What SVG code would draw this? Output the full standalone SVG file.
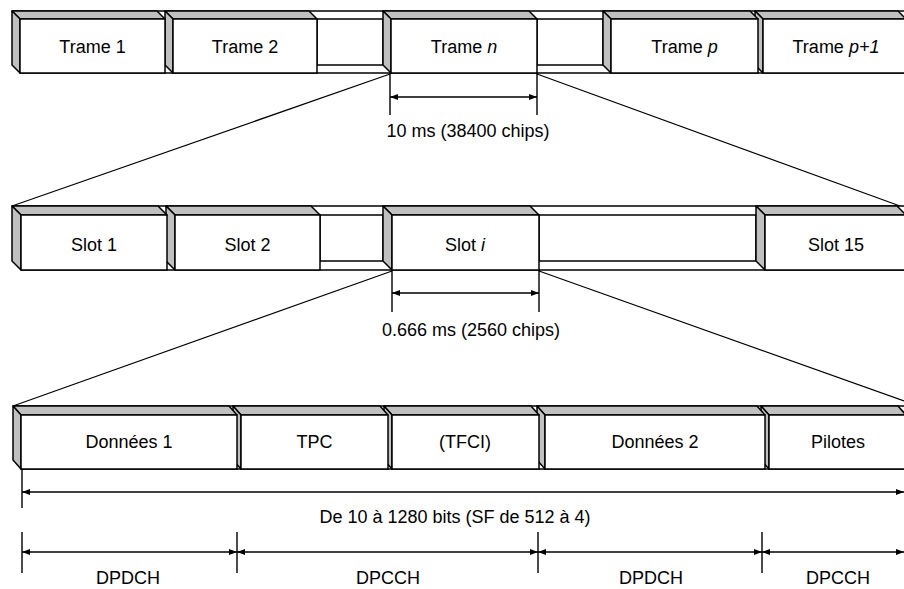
<svg xmlns="http://www.w3.org/2000/svg" width="904" height="589" viewBox="0 0 904 589">
<style>
.face{fill:#c0c0c0;stroke:#000;stroke-width:1.5;stroke-linejoin:round}
.front{fill:#fff;stroke:#000;stroke-width:1.5}
.gap{fill:#fff;stroke:#000;stroke-width:1.5}
.rowline{stroke:#000;stroke-width:1.5;fill:none}
.lbl{font-family:"Liberation Sans",Arial,sans-serif;font-size:18px;fill:#000;text-anchor:middle}
.it{font-style:italic}
.conn{stroke:#000;stroke-width:1.2;fill:none}
.dim{stroke:#000;stroke-width:1.4;fill:none}
</style>
<defs>
<marker id="ah" viewBox="0 0 8 6" refX="8" refY="3" markerWidth="8" markerHeight="6" markerUnits="userSpaceOnUse" orient="auto-start-reverse"><path d="M0,0 L8,3 L0,6 z" fill="#000"/></marker>
</defs>
<rect width="904" height="589" fill="#fff"/>

<!-- Row 1: frames -->
<g id="row1">
<path class="rowline" d="M12,11 H904 M20,73 H904"/>
<g id="gap-r1-b"><rect class="gap" x="537" y="19" width="66" height="46"/></g>
<g id="gap-r1-a"><rect class="gap" x="317" y="19" width="66" height="46"/></g>
<g id="trame-p1">
<polygon class="face" points="755,11 898,11 906,19 763,19"/>
<polygon class="face" points="755,11 763,19 763,73 755,65"/>
<rect class="front" x="763" y="19" width="143" height="54"/>
<text class="lbl" x="836" y="53">Trame <tspan class="it">p+1</tspan></text>
</g>
<g id="trame-p">
<polygon class="face" points="603,11 750,11 758,19 611,19"/>
<polygon class="face" points="603,11 611,19 611,73 603,65"/>
<rect class="front" x="611" y="19" width="147" height="54"/>
<text class="lbl" x="684.5" y="53">Trame <tspan class="it">p</tspan></text>
</g>
<g id="trame-n">
<polygon class="face" points="383,11 529,11 537,19 391,19"/>
<polygon class="face" points="383,11 391,19 391,73 383,65"/>
<rect class="front" x="391" y="19" width="146" height="54"/>
<text class="lbl" x="464" y="53">Trame <tspan class="it">n</tspan></text>
</g>
<g id="trame-2">
<polygon class="face" points="165,11 309,11 317,19 173,19"/>
<polygon class="face" points="165,11 173,19 173,73 165,65"/>
<rect class="front" x="173" y="19" width="144" height="54"/>
<text class="lbl" x="245" y="53">Trame 2</text>
</g>
<g id="trame-1">
<polygon class="face" points="12,11 157,11 165,19 20,19"/>
<polygon class="face" points="12,11 20,19 20,73 12,65"/>
<rect class="front" x="20" y="19" width="145" height="54"/>
<text class="lbl" x="92.5" y="53">Trame 1</text>
</g>
</g>

<!-- Row 2: slots -->
<g id="row2">
<path class="rowline" d="M12,206 H904 M21,270 H904"/>
<g id="gap-r2-b"><rect class="gap" x="539" y="215" width="217" height="46"/></g>
<g id="gap-r2-a"><rect class="gap" x="320" y="215" width="63" height="46"/></g>
<g id="slot-15">
<polygon class="face" points="756,206 897,206 906,215 765,215"/>
<polygon class="face" points="756,206 765,215 765,270 756,261"/>
<rect class="front" x="765" y="215" width="141" height="55"/>
<text class="lbl" x="836" y="251">Slot 15</text>
</g>
<g id="slot-i">
<polygon class="face" points="383,206 530,206 539,215 392,215"/>
<polygon class="face" points="383,206 392,215 392,270 383,261"/>
<rect class="front" x="392" y="215" width="147" height="55"/>
<text class="lbl" x="465" y="251">Slot <tspan class="it">i</tspan></text>
</g>
<g id="slot-2">
<polygon class="face" points="166,206 311,206 320,215 175,215"/>
<polygon class="face" points="166,206 175,215 175,270 166,261"/>
<rect class="front" x="175" y="215" width="145" height="55"/>
<text class="lbl" x="247.5" y="251">Slot 2</text>
</g>
<g id="slot-1">
<polygon class="face" points="12,206 158,206 167,215 21,215"/>
<polygon class="face" points="12,206 21,215 21,270 12,261"/>
<rect class="front" x="21" y="215" width="146" height="55"/>
<text class="lbl" x="94" y="251">Slot 1</text>
</g>
</g>

<!-- Row 3: fields -->
<g id="row3">
<path class="rowline" d="M13,406 H904 M21,469 H904"/>
<g id="pilotes">
<polygon class="face" points="761,406 898,406 906,415 769,415"/>
<polygon class="face" points="761,406 769,415 769,469 761,460"/>
<rect class="front" x="769" y="415" width="137" height="54"/>
<text class="lbl" x="838" y="448">Pilotes</text>
</g>
<g id="donnees-2">
<polygon class="face" points="537,406 757,406 765,415 545,415"/>
<polygon class="face" points="537,406 545,415 545,469 537,460"/>
<rect class="front" x="545" y="415" width="220" height="54"/>
<text class="lbl" x="655" y="448">Données 2</text>
</g>
<g id="tfci">
<polygon class="face" points="384,406 531,406 539,415 392,415"/>
<polygon class="face" points="384,406 392,415 392,469 384,460"/>
<rect class="front" x="392" y="415" width="147" height="54"/>
<text class="lbl" x="465" y="448">(TFCI)</text>
</g>
<g id="tpc">
<polygon class="face" points="233,406 380,406 388,415 241,415"/>
<polygon class="face" points="233,406 241,415 241,469 233,460"/>
<rect class="front" x="241" y="415" width="147" height="54"/>
<text class="lbl" x="314.5" y="448">TPC</text>
</g>
<g id="donnees-1">
<polygon class="face" points="13,406 229,406 237,415 21,415"/>
<polygon class="face" points="13,406 21,415 21,469 13,460"/>
<rect class="front" x="21" y="415" width="216" height="54"/>
<text class="lbl" x="129" y="448">Données 1</text>
</g>
</g>

<!-- Connectors: zoom lines and dimension lines -->
<g id="connectors">
<line class="conn" x1="390" y1="74" x2="12" y2="206"/>
<line class="conn" x1="537" y1="74" x2="900" y2="206"/>
<line class="conn" x1="392" y1="271" x2="13" y2="406"/>
<line class="conn" x1="539" y1="271" x2="904" y2="401"/>

<path class="dim" d="M390,73 V115 M537,73 V115"/>
<line class="dim" x1="390" y1="97" x2="537" y2="97" marker-start="url(#ah)" marker-end="url(#ah)"/>

<path class="dim" d="M392,270 V312 M539,270 V312"/>
<line class="dim" x1="392" y1="293" x2="539" y2="293" marker-start="url(#ah)" marker-end="url(#ah)"/>

<path class="dim" d="M22,469 V508"/>
<line class="dim" x1="22" y1="492" x2="904" y2="492" marker-start="url(#ah)" marker-end="url(#ah)"/>

<path class="dim" d="M22,532 V573 M237,532 V573 M538,532 V573 M762,532 V573"/>
<line class="dim" x1="22" y1="552" x2="237" y2="552" marker-start="url(#ah)" marker-end="url(#ah)"/>
<line class="dim" x1="237" y1="552" x2="538" y2="552" marker-start="url(#ah)" marker-end="url(#ah)"/>
<line class="dim" x1="538" y1="552" x2="762" y2="552" marker-start="url(#ah)" marker-end="url(#ah)"/>
<line class="dim" x1="762" y1="552" x2="904" y2="552" marker-start="url(#ah)" marker-end="url(#ah)"/>
</g>

<g id="labels">
<text class="lbl" x="468" y="137">10 ms (38400 chips)</text>
<text class="lbl" x="471" y="336">0.666 ms (2560 chips)</text>
<text class="lbl" x="455" y="523">De 10 à 1280 bits (SF de 512 à 4)</text>
<text class="lbl" x="128" y="584">DPDCH</text>
<text class="lbl" x="388" y="584">DPCCH</text>
<text class="lbl" x="651" y="584">DPDCH</text>
<text class="lbl" x="838" y="584">DPCCH</text>
</g>
</svg>
